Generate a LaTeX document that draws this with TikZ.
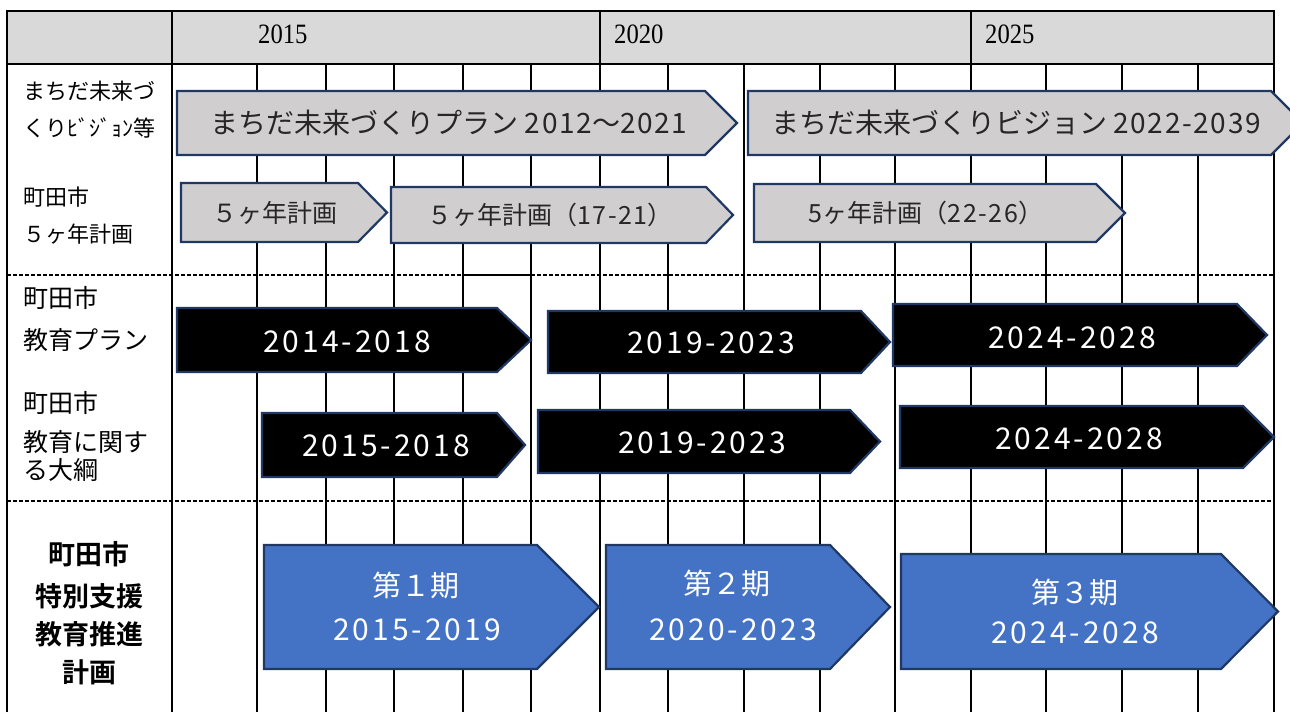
\documentclass[tikz,border=0pt]{standalone}
\usepackage{fontspec}
\newfontfamily\jp{Noto Sans CJK JP}[BoldFont={Noto Sans CJK JP Bold}]
\newfontfamily\jpn{Noto Sans CJK JP}[LetterSpace=10]
\newfontfamily\jpm{Noto Sans CJK JP}[LetterSpace=6]
\newfontfamily\yr{Liberation Serif}[FakeStretch=0.88]
\definecolor{hdr}{HTML}{D9D9D9}
\definecolor{pale}{HTML}{D0CECE}
\definecolor{navy}{HTML}{1F3864}
\definecolor{blu}{HTML}{4472C4}
\newcommand\chev[6]{\draw[#1] (#2,#3) -- (#4,#3) -- (#5,{(#3+#6)/2}) -- (#4,#6) -- (#2,#6) -- cycle;}
\begin{document}
\begin{tikzpicture}[x=1pt,y=-1pt,
  grid/.style={line width=2pt,black},
  sep/.style={line width=1.6pt,black,dash pattern=on 4pt off 2pt},
  pl/.style={fill=pale,draw=navy,line width=2.2pt,line join=miter},
  bk/.style={fill=black,draw=navy,line width=2.2pt,line join=miter},
  bl/.style={fill=blu,draw=navy,line width=2.2pt,line join=miter},
  lab/.style={anchor=west,inner sep=0,font=\jp\fontsize{22}{26}\selectfont},
  labb/.style={anchor=west,inner sep=0,font=\jp\fontsize{25}{30}\selectfont},
  labc/.style={inner sep=0,font=\jp\bfseries\fontsize{27}{30}\selectfont},
  yrs/.style={anchor=west,inner sep=0,font=\yr\fontsize{28}{30}\selectfont},
  ta/.style={inner sep=0,font=\jp\fontsize{28}{32}\selectfont,text=black!85},
  tb/.style={inner sep=0,font=\jp\fontsize{25}{28}\selectfont,text=black!85},
  tw/.style={inner sep=0,font=\jpn\fontsize{30}{32}\selectfont,text=white},
  tk/.style={inner sep=0,font=\jp\fontsize{29}{32}\selectfont,text=white}]
\useasboundingbox (0,0) rectangle (1290,712);
\clip (0,0) rectangle (1290,712);
% header
\fill[hdr] (7,11) rectangle (1274,64);
\foreach \x in {172,600,971} \draw[grid] (\x,11) -- (\x,64);
% grid
\foreach \x in {257,326,394,463,531,668,744,820,895,1046,1122,1198} \draw[grid] (\x,64) -- (\x,712);
\foreach \x in {600,971} \draw[grid] (\x,64) -- (\x,712);
\draw[grid] (7,712) -- (7,11) -- (1274,11) -- (1274,712);
\draw[grid] (7,64) -- (1274,64);
\draw[grid] (172,11) -- (172,712);
% separators
\draw[sep] (7,275) -- (463,275);
\draw[grid,line width=1.6pt] (463,275) -- (531,275);
\draw[sep] (531,275) -- (1274,275);
\draw[sep] (7,501) -- (1274,501);
% years
\node[yrs] (y2015) at (258,34) {2015};
\node[yrs] (y2020) at (614,34) {2020};
\node[yrs] (y2025) at (985,34) {2025};
% left labels
\node[lab] (l1a) at (23,91) {まちだ未来づ};
\node[lab] (l1b) at (23,128) {くりﾋﾞｼﾞｮﾝ等};
\node[lab] (l2a) at (23,197) {町田市};
\node[lab] (l2b) at (23,234) {５ヶ年計画};
\node[labb] (l3a) at (23,298) {町田市};
\node[labb] (l3b) at (23,340) {教育プラン};
\node[labb] (l4a) at (23,403) {町田市};
\node[labb] (l4b) at (23,442) {教育に関す};
\node[labb] (l4c) at (23,470) {る大綱};
\node[labc] (l5a) at (89,554) {町田市};
\node[labc] (l5b) at (89,596) {特別支援};
\node[labc] (l5c) at (89,634) {教育推進};
\node[labc] (l5d) at (89,672) {計画};
% row 1
\chev{pl}{177}{91}{705}{737}{155}
\chev{pl}{748}{91}{1271}{1303}{155}
\node[ta] (a1) at (449,123) {まちだ未来づくりプラン {\jpm 2012}～{\jpm 2021}};
\node[ta] (a2) at (1016,123) {まちだ未来づくりビジョン {\jpm 2022-2039}};
% row 2
\chev{pl}{181}{183}{358}{387}{242}
\chev{pl}{391}{187}{706}{733}{243}
\chev{pl}{754}{184}{1096}{1125}{242}
\node[tb] (b1) at (275,213) {５ヶ年計画};
\node[tb] (b2) at (550,215) {５ヶ年計画（{\jpm 17-21}）};
\node[tb] (b3) at (926,213) {5ヶ年計画（{\jpm 22-26}）};
% row 3
\chev{bk}{177}{308}{497}{531}{372}
\chev{bk}{548}{311}{861}{890}{373}
\chev{bk}{893}{304}{1237}{1267}{366}
\node[tw] (c1) at (347,342) {2014-2018};
\node[tw] (c2) at (711,343) {2019-2023};
\node[tw] (c3) at (1072,338) {2024-2028};
% row 4
\chev{bk}{262}{413}{497}{525}{477}
\chev{bk}{538}{410}{850}{880}{473}
\chev{bk}{900}{406}{1243}{1274}{468}
\node[tw] (d1) at (386,446) {2015-2018};
\node[tw] (d2) at (702,443) {2019-2023};
\node[tw] (d3) at (1079,439) {2024-2028};
% row 5
\chev{bl}{264}{545}{537}{599}{669}
\chev{bl}{606}{545}{830}{890}{669}
\chev{bl}{901}{554}{1221}{1278}{669}
\node[tk] (e1a) at (416,585) {第１期};
\node[tw] (e1b) at (417,630) {2015-2019};
\node[tk] (e2a) at (727,583) {第２期};
\node[tw] (e2b) at (733,630) {2020-2023};
\node[tk] (e3a) at (1075,592) {第３期};
\node[tw] (e3b) at (1075,633) {2024-2028};
\end{tikzpicture}
\end{document}
